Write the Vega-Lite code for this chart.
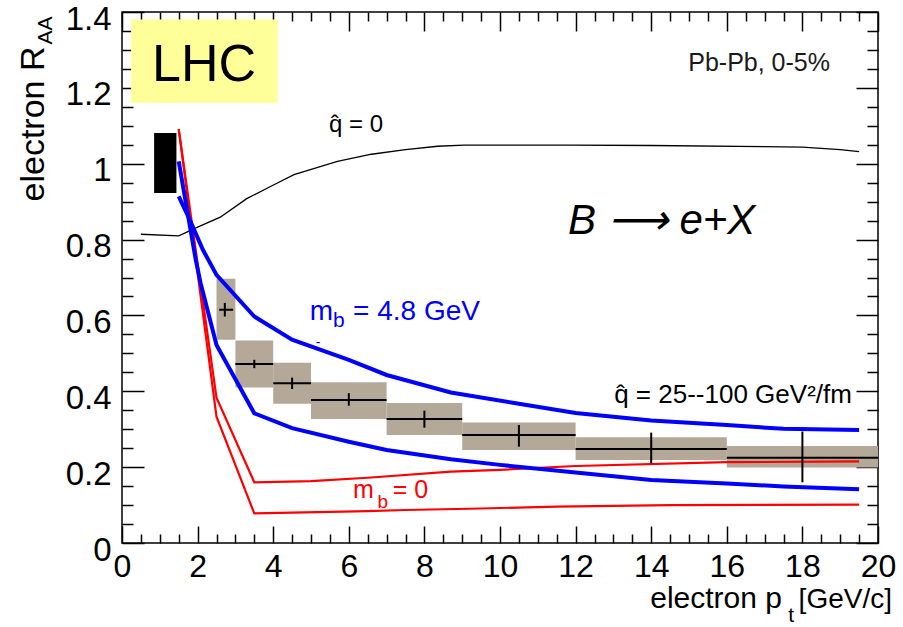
{
  "$schema": "https://vega.github.io/schema/vega-lite/v6.json",
  "width": 756,
  "height": 531,
  "autosize": {"type": "none"},
  "padding": {"left": 122, "top": 12, "right": 25, "bottom": 84},
  "background": "white",
  "config": {
    "view": {"stroke": "#000000", "strokeWidth": 1.5},
    "font": "Liberation Sans",
    "text": {"font": "Liberation Sans"}
  },
  "resolve": {"axis": {"x": "independent", "y": "independent"}},
  "datasets": {
    "points": [
      {"xc": 2.72, "bar_lo": 2.57, "bar_hi": 2.94, "box_lo": 2.5, "box_hi": 3.0, "y": 0.615, "stat_lo": 0.597, "stat_hi": 0.633, "sys_lo": 0.536, "sys_hi": 0.697},
      {"xc": 3.5, "bar_lo": 3, "bar_hi": 4, "box_lo": 3, "box_hi": 4, "y": 0.472, "stat_lo": 0.461, "stat_hi": 0.483, "sys_lo": 0.41, "sys_hi": 0.534},
      {"xc": 4.5, "bar_lo": 4, "bar_hi": 5, "box_lo": 4, "box_hi": 5, "y": 0.421, "stat_lo": 0.406, "stat_hi": 0.436, "sys_lo": 0.367, "sys_hi": 0.475},
      {"xc": 6, "bar_lo": 5, "bar_hi": 7, "box_lo": 5, "box_hi": 7, "y": 0.377, "stat_lo": 0.362, "stat_hi": 0.395, "sys_lo": 0.327, "sys_hi": 0.424},
      {"xc": 8, "bar_lo": 7, "bar_hi": 9, "box_lo": 7, "box_hi": 9, "y": 0.327, "stat_lo": 0.304, "stat_hi": 0.349, "sys_lo": 0.285, "sys_hi": 0.369},
      {"xc": 10.5, "bar_lo": 9, "bar_hi": 12, "box_lo": 9, "box_hi": 12, "y": 0.285, "stat_lo": 0.254, "stat_hi": 0.311, "sys_lo": 0.245, "sys_hi": 0.318},
      {"xc": 14, "bar_lo": 12, "bar_hi": 16, "box_lo": 12, "box_hi": 16, "y": 0.248, "stat_lo": 0.21, "stat_hi": 0.291, "sys_lo": 0.219, "sys_hi": 0.279},
      {"xc": 18, "bar_lo": 16, "bar_hi": 20, "box_lo": 16, "box_hi": 20, "y": 0.225, "stat_lo": 0.16, "stat_hi": 0.294, "sys_lo": 0.199, "sys_hi": 0.256}
    ],
    "norm": [{"x_lo": 0.85, "x_hi": 1.44, "y_lo": 0.923, "y_hi": 1.081}],
    "lhcbox": [{"x_lo": 0.24, "x_hi": 4.12, "y_lo": 1.161, "y_hi": 1.38}],
    "curves": [
      {"curve": "q0", "pt": 0.5, "raa": 0.814},
      {"curve": "q0", "pt": 1.5, "raa": 0.81},
      {"curve": "q0", "pt": 2.0, "raa": 0.833},
      {"curve": "q0", "pt": 2.6, "raa": 0.859},
      {"curve": "q0", "pt": 3.3, "raa": 0.908},
      {"curve": "q0", "pt": 3.85, "raa": 0.936},
      {"curve": "q0", "pt": 4.55, "raa": 0.971},
      {"curve": "q0", "pt": 5.7, "raa": 1.006},
      {"curve": "q0", "pt": 6.6, "raa": 1.025},
      {"curve": "q0", "pt": 7.5, "raa": 1.037},
      {"curve": "q0", "pt": 8.35, "raa": 1.046},
      {"curve": "q0", "pt": 9.05, "raa": 1.049},
      {"curve": "q0", "pt": 11.9, "raa": 1.049},
      {"curve": "q0", "pt": 14, "raa": 1.048},
      {"curve": "q0", "pt": 18, "raa": 1.044},
      {"curve": "q0", "pt": 19, "raa": 1.037},
      {"curve": "q0", "pt": 19.5, "raa": 1.032},
      {"curve": "mb48_a", "pt": 1.5, "raa": 1.006},
      {"curve": "mb48_a", "pt": 1.95, "raa": 0.747},
      {"curve": "mb48_a", "pt": 2.08, "raa": 0.685},
      {"curve": "mb48_a", "pt": 2.5, "raa": 0.522},
      {"curve": "mb48_a", "pt": 3.5, "raa": 0.342},
      {"curve": "mb48_a", "pt": 4.5, "raa": 0.303},
      {"curve": "mb48_a", "pt": 6, "raa": 0.267},
      {"curve": "mb48_a", "pt": 7, "raa": 0.245},
      {"curve": "mb48_a", "pt": 8.7, "raa": 0.221},
      {"curve": "mb48_a", "pt": 10, "raa": 0.206},
      {"curve": "mb48_a", "pt": 12, "raa": 0.186},
      {"curve": "mb48_a", "pt": 14, "raa": 0.166},
      {"curve": "mb48_a", "pt": 16, "raa": 0.157},
      {"curve": "mb48_a", "pt": 17.5, "raa": 0.149},
      {"curve": "mb48_a", "pt": 19.5, "raa": 0.142},
      {"curve": "mb48_b", "pt": 1.5, "raa": 0.914},
      {"curve": "mb48_b", "pt": 1.77, "raa": 0.857},
      {"curve": "mb48_b", "pt": 2.14, "raa": 0.773},
      {"curve": "mb48_b", "pt": 2.5, "raa": 0.707},
      {"curve": "mb48_b", "pt": 3.5, "raa": 0.597},
      {"curve": "mb48_b", "pt": 4.5, "raa": 0.536},
      {"curve": "mb48_b", "pt": 6, "raa": 0.483},
      {"curve": "mb48_b", "pt": 7, "raa": 0.443},
      {"curve": "mb48_b", "pt": 8.7, "raa": 0.397},
      {"curve": "mb48_b", "pt": 10.5, "raa": 0.367},
      {"curve": "mb48_b", "pt": 12, "raa": 0.343},
      {"curve": "mb48_b", "pt": 14, "raa": 0.323},
      {"curve": "mb48_b", "pt": 16, "raa": 0.311},
      {"curve": "mb48_b", "pt": 17.5, "raa": 0.301},
      {"curve": "mb48_b", "pt": 19.5, "raa": 0.298},
      {"curve": "mb0_hi", "pt": 1.5, "raa": 1.091},
      {"curve": "mb0_hi", "pt": 2.5, "raa": 0.383},
      {"curve": "mb0_hi", "pt": 3.5, "raa": 0.16},
      {"curve": "mb0_hi", "pt": 5, "raa": 0.163},
      {"curve": "mb0_hi", "pt": 6.5, "raa": 0.172},
      {"curve": "mb0_hi", "pt": 8.7, "raa": 0.188},
      {"curve": "mb0_hi", "pt": 10, "raa": 0.193},
      {"curve": "mb0_hi", "pt": 12, "raa": 0.203},
      {"curve": "mb0_hi", "pt": 16, "raa": 0.213},
      {"curve": "mb0_hi", "pt": 19.5, "raa": 0.215},
      {"curve": "mb0_lo", "pt": 1.5, "raa": 1.091},
      {"curve": "mb0_lo", "pt": 2.5, "raa": 0.333},
      {"curve": "mb0_lo", "pt": 3.5, "raa": 0.078},
      {"curve": "mb0_lo", "pt": 4.5, "raa": 0.08},
      {"curve": "mb0_lo", "pt": 5.5, "raa": 0.082},
      {"curve": "mb0_lo", "pt": 6.5, "raa": 0.084},
      {"curve": "mb0_lo", "pt": 7.5, "raa": 0.087},
      {"curve": "mb0_lo", "pt": 9.5, "raa": 0.091},
      {"curve": "mb0_lo", "pt": 11.5, "raa": 0.096},
      {"curve": "mb0_lo", "pt": 14.5, "raa": 0.1},
      {"curve": "mb0_lo", "pt": 19.5, "raa": 0.101}
    ],
    "txt_black_left": [
      {"text": "B \u27f6 e+X", "x": 11.8, "y": 0.815}
    ],
    "txt_plain": [
      {"text": "q\u0302 = 0", "x": 6.19, "y": 1.083, "anchor": "center", "size": "m"},
      {"text": "Pb-Pb, 0-5%", "x": 18.73, "y": 1.244, "anchor": "right", "size": "m"},
      {"text": "q\u0302 = 25--100 GeV\u00b2/fm", "x": 19.31, "y": 0.369, "anchor": "right", "size": "l"}
    ],
    "txt_lhc": [{"text": "LHC", "x": 2.17, "y": 1.217}],
    "txt_blue": [
      {"text": "m", "x": 4.97, "y": 0.588, "part": "main_l"},
      {"text": "b", "x": 5.58, "y": 0.570, "part": "sub"},
      {"text": "= 4.8 GeV", "x": 9.47, "y": 0.588, "part": "main_r"},
      {"text": "-", "x": 5.19, "y": 0.527, "part": "mark"}
    ],
    "txt_red": [
      {"text": "m", "x": 6.11, "y": 0.118, "part": "main_l"},
      {"text": "b", "x": 6.76, "y": 0.092, "part": "sub"},
      {"text": "= 0", "x": 8.1, "y": 0.118, "part": "main_r"}
    ],
    "xtitle": [
      {"text": "electron p", "x": 17.46, "y": -0.172, "part": "main"},
      {"text": "t", "x": 17.7, "y": -0.207, "part": "sub"},
      {"text": "[GeV/c]", "x": 20.37, "y": -0.172, "part": "unit"}
    ],
    "ytitle": [
      {"text": "electron R", "x": -2.06, "y": 1.309, "part": "main"},
      {"text": "AA", "x": -1.85, "y": 1.314, "part": "sub"}
    ]
  },
  "layer": [
    {
      "data": {"name": "points"},
      "mark": {"type": "rect", "color": "#b4a898"},
      "encoding": {
        "x": {"field": "box_lo", "type": "quantitative",
          "scale": {"domain": [0, 20], "nice": false, "zero": false},
          "axis": {"orient": "bottom", "values": [0, 2, 4, 6, 8, 10, 12, 14, 16, 18, 20], "format": "d",
            "ticks": false, "domain": false, "grid": false, "labelFont": "Liberation Sans Narrow, Liberation Sans",
            "labelFontSize": 32, "labelPadding": 8, "labelColor": "#000000", "labelFlush": false, "labelOverlap": false, "title": null}},
        "x2": {"field": "box_hi"},
        "y": {"field": "sys_lo", "type": "quantitative",
          "scale": {"domain": [0, 1.4], "nice": false, "zero": false},
          "axis": {"orient": "left", "values": [0, 0.2, 0.4, 0.6, 0.8, 1, 1.2, 1.4],
            "labelExpr": "'' + round(datum.value * 10) / 10",
            "ticks": false, "domain": false, "grid": false, "labelFont": "Liberation Sans Narrow, Liberation Sans",
            "labelFontSize": 33, "labelPadding": 11, "labelOffset": 7, "labelColor": "#000000", "labelFlush": false, "labelOverlap": false, "title": null}},
        "y2": {"field": "sys_hi"}
      }
    },
    {
      "data": {"name": "norm"},
      "mark": {"type": "rect", "color": "#000000"},
      "encoding": {
        "x": {"field": "x_lo", "type": "quantitative",
          "axis": {"orient": "top", "offset": -531,
            "values": [0, 0.5, 1, 1.5, 2, 2.5, 3, 3.5, 4, 4.5, 5, 5.5, 6, 6.5, 7, 7.5, 8, 8.5, 9, 9.5, 10, 10.5, 11, 11.5, 12, 12.5, 13, 13.5, 14, 14.5, 15, 15.5, 16, 16.5, 17, 17.5, 18, 18.5, 19, 19.5, 20],
            "labels": false, "domain": false, "grid": false, "tickColor": "#000000", "tickWidth": 1.5,
            "tickSize": {"condition": {"test": "datum.value % 2 === 0", "value": 17}, "value": 9}, "title": null}},
        "x2": {"field": "x_hi"},
        "y": {"field": "y_lo", "type": "quantitative",
          "axis": {"orient": "right", "offset": -756,
            "values": [0, 0.05, 0.1, 0.15, 0.2, 0.25, 0.3, 0.35, 0.4, 0.45, 0.5, 0.55, 0.6, 0.65, 0.7, 0.75, 0.8, 0.85, 0.9, 0.95, 1, 1.05, 1.1, 1.15, 1.2, 1.25, 1.3, 1.35, 1.4],
            "labels": false, "domain": false, "grid": false, "tickColor": "#000000", "tickWidth": 1.5,
            "tickSize": {"condition": {"test": "abs(datum.value * 5 - round(datum.value * 5)) < 0.001", "value": 22}, "value": 11}, "title": null}},
        "y2": {"field": "y_hi"}
      }
    },
    {
      "data": {"name": "curves"},
      "transform": [{"filter": "datum.curve === 'q0'"}],
      "mark": {"type": "line", "color": "#000000", "strokeWidth": 1.3},
      "encoding": {
        "x": {"field": "pt", "type": "quantitative",
          "axis": {"orient": "bottom", "offset": -531,
            "values": [0, 0.5, 1, 1.5, 2, 2.5, 3, 3.5, 4, 4.5, 5, 5.5, 6, 6.5, 7, 7.5, 8, 8.5, 9, 9.5, 10, 10.5, 11, 11.5, 12, 12.5, 13, 13.5, 14, 14.5, 15, 15.5, 16, 16.5, 17, 17.5, 18, 18.5, 19, 19.5, 20],
            "labels": false, "domain": false, "grid": false, "tickColor": "#000000", "tickWidth": 1.5,
            "tickSize": {"condition": {"test": "datum.value % 2 === 0", "value": 19}, "value": 9}, "title": null}},
        "y": {"field": "raa", "type": "quantitative",
          "axis": {"orient": "left", "offset": -756,
            "values": [0, 0.05, 0.1, 0.15, 0.2, 0.25, 0.3, 0.35, 0.4, 0.45, 0.5, 0.55, 0.6, 0.65, 0.7, 0.75, 0.8, 0.85, 0.9, 0.95, 1, 1.05, 1.1, 1.15, 1.2, 1.25, 1.3, 1.35, 1.4],
            "labels": false, "domain": false, "grid": false, "tickColor": "#000000", "tickWidth": 1.5,
            "tickSize": {"condition": {"test": "abs(datum.value * 5 - round(datum.value * 5)) < 0.001", "value": 22}, "value": 11}, "title": null}}
      }
    },
    {
      "data": {"name": "curves"},
      "transform": [{"filter": "datum.curve === 'mb0_hi' || datum.curve === 'mb0_lo'"}],
      "mark": {"type": "line", "color": "#ff0000", "strokeWidth": 2.2},
      "encoding": {
        "x": {"field": "pt", "type": "quantitative", "axis": null},
        "y": {"field": "raa", "type": "quantitative", "axis": null},
        "detail": {"field": "curve"}
      }
    },
    {
      "data": {"name": "curves"},
      "transform": [{"filter": "datum.curve === 'mb48_a' || datum.curve === 'mb48_b'"}],
      "mark": {"type": "line", "color": "#0000ff", "strokeWidth": 4},
      "encoding": {
        "x": {"field": "pt", "type": "quantitative", "axis": null},
        "y": {"field": "raa", "type": "quantitative", "axis": null},
        "detail": {"field": "curve"}
      }
    },
    {
      "data": {"name": "points"},
      "mark": {"type": "rule", "color": "#000000", "strokeWidth": 2},
      "encoding": {
        "x": {"field": "bar_lo", "type": "quantitative", "axis": null},
        "x2": {"field": "bar_hi"},
        "y": {"field": "y", "type": "quantitative", "axis": null}
      }
    },
    {
      "data": {"name": "points"},
      "mark": {"type": "rule", "color": "#000000", "strokeWidth": 2},
      "encoding": {
        "x": {"field": "xc", "type": "quantitative", "axis": null},
        "y": {"field": "stat_lo", "type": "quantitative", "axis": null},
        "y2": {"field": "stat_hi"}
      }
    },
    {
      "data": {"name": "lhcbox"},
      "mark": {"type": "rect", "color": "#ffff99"},
      "encoding": {
        "x": {"field": "x_lo", "type": "quantitative", "axis": null},
        "x2": {"field": "x_hi"},
        "y": {"field": "y_lo", "type": "quantitative", "axis": null},
        "y2": {"field": "y_hi"}
      }
    },
    {
      "data": {"name": "txt_lhc"},
      "mark": {"type": "text", "fontSize": 52, "align": "center", "baseline": "alphabetic", "color": "#000000"},
      "encoding": {
        "x": {"field": "x", "type": "quantitative", "axis": null},
        "y": {"field": "y", "type": "quantitative", "axis": null},
        "text": {"field": "text"}
      }
    },
    {
      "data": {"name": "txt_black_left"},
      "mark": {"type": "text", "fontSize": 42, "fontStyle": "italic", "align": "left", "baseline": "alphabetic", "color": "#000000"},
      "encoding": {
        "x": {"field": "x", "type": "quantitative", "axis": null},
        "y": {"field": "y", "type": "quantitative", "axis": null},
        "text": {"field": "text"}
      }
    },
    {
      "data": {"name": "txt_plain"},
      "transform": [{"filter": "datum.anchor === 'center'"}],
      "mark": {"type": "text", "fontSize": 24, "align": "center", "baseline": "alphabetic", "color": "#000000"},
      "encoding": {
        "x": {"field": "x", "type": "quantitative", "axis": null},
        "y": {"field": "y", "type": "quantitative", "axis": null},
        "text": {"field": "text"}
      }
    },
    {
      "data": {"name": "txt_plain"},
      "transform": [{"filter": "datum.anchor === 'right' && datum.size === 'm'"}],
      "mark": {"type": "text", "fontSize": 25, "align": "right", "baseline": "alphabetic", "color": "#1a1a1a"},
      "encoding": {
        "x": {"field": "x", "type": "quantitative", "axis": null},
        "y": {"field": "y", "type": "quantitative", "axis": null},
        "text": {"field": "text"}
      }
    },
    {
      "data": {"name": "txt_plain"},
      "transform": [{"filter": "datum.size === 'l'"}],
      "mark": {"type": "text", "fontSize": 26, "align": "right", "baseline": "alphabetic", "color": "#000000"},
      "encoding": {
        "x": {"field": "x", "type": "quantitative", "axis": null},
        "y": {"field": "y", "type": "quantitative", "axis": null},
        "text": {"field": "text"}
      }
    },
    {
      "data": {"name": "txt_blue"},
      "transform": [{"filter": "datum.part === 'main_l'"}],
      "mark": {"type": "text", "fontSize": 28, "align": "left", "baseline": "alphabetic", "color": "#0000ff"},
      "encoding": {
        "x": {"field": "x", "type": "quantitative", "axis": null},
        "y": {"field": "y", "type": "quantitative", "axis": null},
        "text": {"field": "text"}
      }
    },
    {
      "data": {"name": "txt_blue"},
      "transform": [{"filter": "datum.part === 'sub'"}],
      "mark": {"type": "text", "fontSize": 21, "align": "left", "baseline": "alphabetic", "color": "#0000ff"},
      "encoding": {
        "x": {"field": "x", "type": "quantitative", "axis": null},
        "y": {"field": "y", "type": "quantitative", "axis": null},
        "text": {"field": "text"}
      }
    },
    {
      "data": {"name": "txt_blue"},
      "transform": [{"filter": "datum.part === 'mark'"}],
      "mark": {"type": "text", "fontSize": 14, "align": "center", "baseline": "middle", "color": "#0000ff"},
      "encoding": {
        "x": {"field": "x", "type": "quantitative", "axis": null},
        "y": {"field": "y", "type": "quantitative", "axis": null},
        "text": {"field": "text"}
      }
    },
    {
      "data": {"name": "txt_blue"},
      "transform": [{"filter": "datum.part === 'main_r'"}],
      "mark": {"type": "text", "fontSize": 28, "align": "right", "baseline": "alphabetic", "color": "#0000ff"},
      "encoding": {
        "x": {"field": "x", "type": "quantitative", "axis": null},
        "y": {"field": "y", "type": "quantitative", "axis": null},
        "text": {"field": "text"}
      }
    },
    {
      "data": {"name": "txt_red"},
      "transform": [{"filter": "datum.part === 'main_l'"}],
      "mark": {"type": "text", "fontSize": 25, "align": "left", "baseline": "alphabetic", "color": "#ff0000"},
      "encoding": {
        "x": {"field": "x", "type": "quantitative", "axis": null},
        "y": {"field": "y", "type": "quantitative", "axis": null},
        "text": {"field": "text"}
      }
    },
    {
      "data": {"name": "txt_red"},
      "transform": [{"filter": "datum.part === 'sub'"}],
      "mark": {"type": "text", "fontSize": 19, "align": "left", "baseline": "alphabetic", "color": "#ff0000"},
      "encoding": {
        "x": {"field": "x", "type": "quantitative", "axis": null},
        "y": {"field": "y", "type": "quantitative", "axis": null},
        "text": {"field": "text"}
      }
    },
    {
      "data": {"name": "txt_red"},
      "transform": [{"filter": "datum.part === 'main_r'"}],
      "mark": {"type": "text", "fontSize": 25, "align": "right", "baseline": "alphabetic", "color": "#ff0000"},
      "encoding": {
        "x": {"field": "x", "type": "quantitative", "axis": null},
        "y": {"field": "y", "type": "quantitative", "axis": null},
        "text": {"field": "text"}
      }
    },
    {
      "data": {"name": "xtitle"},
      "transform": [{"filter": "datum.part === 'main'"}],
      "mark": {"type": "text", "fontSize": 30, "align": "right", "baseline": "alphabetic", "color": "#000000"},
      "encoding": {
        "x": {"field": "x", "type": "quantitative", "axis": null},
        "y": {"field": "y", "type": "quantitative", "axis": null},
        "text": {"field": "text"}
      }
    },
    {
      "data": {"name": "xtitle"},
      "transform": [{"filter": "datum.part === 'unit'"}],
      "mark": {"type": "text", "fontSize": 28, "align": "right", "baseline": "alphabetic", "color": "#000000"},
      "encoding": {
        "x": {"field": "x", "type": "quantitative", "axis": null},
        "y": {"field": "y", "type": "quantitative", "axis": null},
        "text": {"field": "text"}
      }
    },
    {
      "data": {"name": "xtitle"},
      "transform": [{"filter": "datum.part === 'sub'"}],
      "mark": {"type": "text", "fontSize": 21, "align": "center", "baseline": "alphabetic", "color": "#000000"},
      "encoding": {
        "x": {"field": "x", "type": "quantitative", "axis": null},
        "y": {"field": "y", "type": "quantitative", "axis": null},
        "text": {"field": "text"}
      }
    },
    {
      "data": {"name": "ytitle"},
      "transform": [{"filter": "datum.part === 'main'"}],
      "mark": {"type": "text", "fontSize": 34, "angle": 270, "align": "right", "baseline": "alphabetic", "color": "#000000"},
      "encoding": {
        "x": {"field": "x", "type": "quantitative", "axis": null},
        "y": {"field": "y", "type": "quantitative", "axis": null},
        "text": {"field": "text"}
      }
    },
    {
      "data": {"name": "ytitle"},
      "transform": [{"filter": "datum.part === 'sub'"}],
      "mark": {"type": "text", "fontSize": 21, "angle": 270, "align": "left", "baseline": "alphabetic", "color": "#000000"},
      "encoding": {
        "x": {"field": "x", "type": "quantitative", "axis": null},
        "y": {"field": "y", "type": "quantitative", "axis": null},
        "text": {"field": "text"}
      }
    }
  ]
}
